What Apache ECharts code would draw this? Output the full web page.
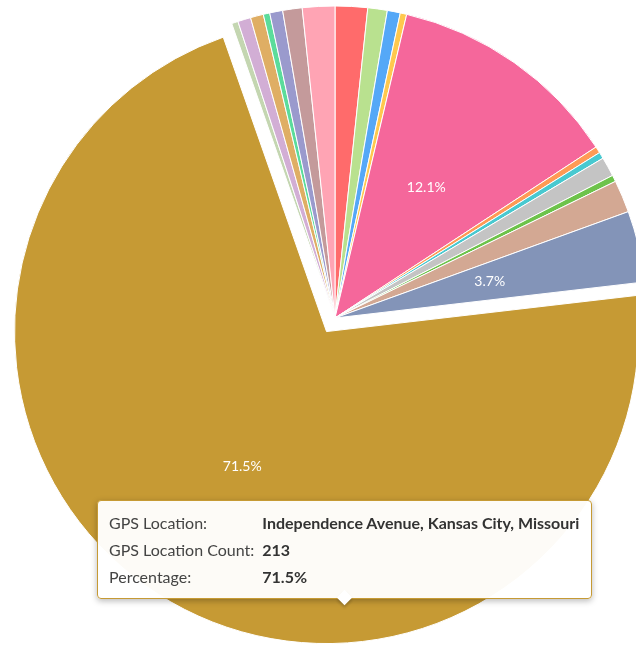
<!DOCTYPE html>
<html>
<head>
<meta charset="utf-8">
<script src="https://cdn.jsdelivr.net/npm/echarts@6/dist/echarts.min.js"></script>
<style>
  html, body { margin: 0; padding: 0; background: #fff; }
  #chart { width: 636px; height: 645px; }
</style>
</head>
<body>
<div id="chart"></div>
<script>
// slices, clockwise from 12 o'clock
const locations = [
  'Main Street, Kansas City, Missouri',
  'Grand Boulevard, Kansas City, Missouri',
  'Troost Avenue, Kansas City, Missouri',
  'Prospect Avenue, Kansas City, Missouri',
  'Truman Road, Kansas City, Missouri',
  'Broadway Boulevard, Kansas City, Missouri',
  'Linwood Boulevard, Kansas City, Missouri',
  'Armour Boulevard, Kansas City, Missouri',
  'Westport Road, Kansas City, Missouri',
  'Paseo Boulevard, Kansas City, Missouri',
  'Benton Boulevard, Kansas City, Missouri',
  'Independence Avenue, Kansas City, Missouri',
  'Gladstone Boulevard, Kansas City, Missouri',
  'Cleveland Avenue, Kansas City, Missouri',
  'Wabash Avenue, Kansas City, Missouri',
  'Olive Street, Kansas City, Missouri',
  'Chestnut Trafficway, Kansas City, Missouri',
  'Van Brunt Boulevard, Kansas City, Missouri',
  'Hardesty Avenue, Kansas City, Missouri'
];
const counts = [5, 3, 2, 1, 36, 1, 1, 3, 1, 5, 11, 213, 1, 2, 2, 1, 2, 3, 5];
const colors = [
  '#ff6b6b', '#b9e18f', '#55a8f7', '#ffc84e', '#f5679b', '#ff9a55', '#48c9d0',
  '#c4c4c4', '#6dc34b', '#d3a893', '#8394b8', '#c69a34', '#c4d6b1', '#d2aed5',
  '#dfae64', '#5bdc9b', '#9a9acd', '#c49a9b', '#ffa4b4'
];
const highlighted = 11;

const chart = echarts.init(document.getElementById('chart'));

const option = {
  animation: false,
  color: colors,
  tooltip: {
    trigger: 'item',
    alwaysShowContent: true,
    transitionDuration: 0,
    padding: [8, 12, 8, 11],
    backgroundColor: 'rgba(255,255,255,0.96)',
    borderColor: '#c69a34',
    borderWidth: 1,
    extraCssText: 'border-radius:4px;box-shadow:0 2px 6px rgba(0,0,0,0.28);',
    position: () => [97, 500],
    formatter: (p) => {
      const row = (k, v) =>
        '<tr><td style="padding:0 8px 0 0;color:#444;font-weight:400">' + k +
        '</td><td style="padding:0;color:#333;font-weight:700">' + v + '</td></tr>';
      return '<div style="font-family:Lato;font-size:16px;line-height:27px">' +
        '<table style="border-collapse:collapse;font:inherit;line-height:27px">' +
        row('GPS Location:', p.name) +
        row('GPS Location Count:', p.value) +
        row('Percentage:', p.percent.toFixed(1) + '%') +
        '</table>' +
        '<div style="position:absolute;left:50%;bottom:-5px;margin-left:-6px;width:11px;height:11px;' +
        'background:#fff;transform:rotate(45deg);box-shadow:2px 2px 3px rgba(0,0,0,0.18)"></div>' +
        '</div>';
    }
  },
  series: [{
    type: 'pie',
    center: [335, 318],
    radius: 312,
    startAngle: 90,
    clockwise: true,
    avoidLabelOverlap: false,
    selectedMode: 'single',
    selectedOffset: 16,
    itemStyle: { borderColor: '#fff', borderWidth: 1 },
    label: {
      position: 'inside',
      color: '#fff',
      fontFamily: 'Lato',
      fontSize: 14,
      formatter: (p) => (p.percent >= 2 ? p.percent.toFixed(1) + '%' : '')
    },
    labelLine: { show: false },
    emphasis: { scale: false },
    data: locations.map((name, i) => ({
      name: name,
      value: counts[i],
      selected: i === highlighted
    }))
  }]
};

chart.setOption(option);
chart.dispatchAction({ type: 'showTip', seriesIndex: 0, dataIndex: highlighted });
</script>
</body>
</html>
